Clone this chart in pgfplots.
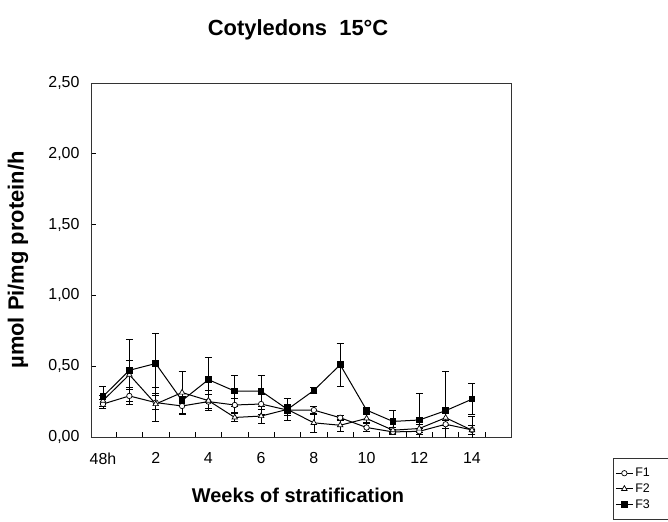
\documentclass[border=0pt]{standalone}
\usepackage{pgfplots}
\pgfplotsset{compat=1.18}
\usepackage{pgfplotstable}
\usepackage{fontspec}
\setmainfont{Liberation Sans}

\pgfplotstableread{
x y e
0 0.233 0.03
1 0.29 0.06
2 0.243 0.05
3 0.219 0.06
4 0.25 0.05
5 0.226 0.05
6 0.233 0.07
7 0.19 0.04
8 0.19 0.03
9 0.136 0.02
10 0.067 0.03
11 0.036 0.02
12 0.04 0.02
13 0.09 0.03
14 0.05 0.03
}\Fone
\pgfplotstableread{
x y e
0 0.257 0.04
1 0.44 0.10
2 0.233 0.12
3 0.314 0.15
4 0.257 0.07
5 0.138 0.03
6 0.148 0.05
7 0.195 0.03
8 0.10 0.07
9 0.083 0.04
10 0.131 0.03
11 0.048 0.02
12 0.06 0.03
13 0.136 0.05
14 0.048 0.10
}\Ftwo
\pgfplotstableread{
x y e
0 0.286 0.07
1 0.471 0.22
2 0.519 0.21
3 0.257 0.03
4 0.405 0.16
5 0.324 0.11
6 0.324 0.11
7 0.195 0.08
8 0.329 0.02
9 0.51 0.15
10 0.19 0.02
11 0.11 0.08
12 0.12 0.19
13 0.186 0.28
14 0.267 0.11
}\Fthree

\begin{document}
\begin{tikzpicture}
\begin{axis}[
  scale only axis, width=420bp, height=354bp,
  at={(0,0)}, anchor=south west,
  xmin=-0.455, xmax=15.48, ymin=0, ymax=2.5,
  axis line style={line width=0.8bp, black!80},
  xtick={0.5,1.5,...,14.5}, xticklabels={},
  extra x ticks={0,2,...,14},
  extra x tick labels={48h,2,4,6,8,10,12,14},
  extra x tick style={major tick length=0pt},
  ytick={0,0.5,...,2.5},
  xtick pos=left, ytick pos=left,
  tick align=inside, major tick length=5bp,
  tick style={line width=0.7bp, black},
  /pgf/number format/assume math mode=true,
  yticklabel style={/pgf/number format/.cd, fixed, fixed zerofill, precision=2, use comma, /tikz/.cd, font=\fontsize{16}{16}\selectfont, xshift=-8bp},
  xticklabel style={font=\fontsize{16}{16}\selectfont, yshift=-12bp},
  xlabel={\textbf{Weeks of stratification}},
  ylabel={\textbf{µmol Pi/mg protein/h}},
  xlabel style={at={(axis description cs:0.493,-0.164)}, anchor=center, font=\fontsize{20}{20}\selectfont},
  ylabel style={at={(axis description cs:-0.174,0.5)}, anchor=center, font=\fontsize{22}{22}\selectfont},
  title={\textbf{Cotyledons\ \ 15°C}},
  every axis title shift=0pt,
  title style={at={(axis description cs:0.493,1.15)}, anchor=center, font=\fontsize{22}{22}\selectfont},
  legend style={at={(axis description cs:1.243,-0.059)}, anchor=north west, font=\fontsize{12.5}{12.5}\selectfont, draw=black!80, line width=0.6bp, row sep=1.5bp, inner xsep=2bp, inner ysep=8bp},
  legend cell align=left,
  legend image code/.code={\draw[#1] (0bp,0bp) -- (17bp,0bp); \draw[#1, mark repeat=1, mark phase=1] plot coordinates {(8.5bp,0bp)};},
  error bars/y dir=both, error bars/y explicit,
  error bars/error mark options={rotate=90, mark size=3.5bp, line width=0.6bp},
  error bars/error bar style={line width=0.6bp},
]
\addplot[black, line width=1bp, mark=*, mark size=2.7bp, mark options={fill=white, line width=0.7bp}]
  table[x=x, y=y, y error=e] {\Fone};
\addplot[black, line width=1bp, mark=triangle*, mark size=3.2bp, mark options={fill=white, line width=0.7bp}]
  table[x=x, y=y, y error=e] {\Ftwo};
\addplot[black, line width=1bp, mark=square*, mark size=2.8bp, mark options={fill=black}]
  table[x=x, y=y, y error=e] {\Fthree};
\legend{F1\hspace*{20bp},F2,F3}
\end{axis}
\pgfresetboundingbox
\path (-91bp,-85bp) rectangle (577bp,437bp);
\end{tikzpicture}
\end{document}
